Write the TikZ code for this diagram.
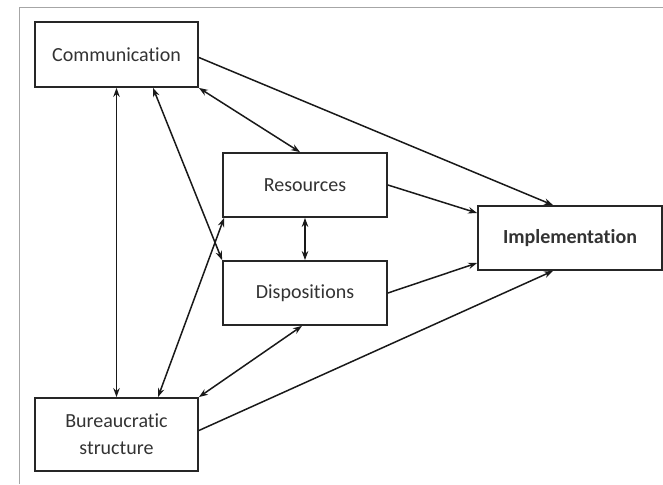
\documentclass[tikz,border=0pt]{standalone}
\usepackage{fontspec}
\setmainfont{Carlito}[Ligatures=NoCommon]
\usetikzlibrary{arrows.meta}
\begin{document}
\begin{tikzpicture}[x=1pt,y=-1pt,
  tip/.tip={Stealth[length=9pt,width=6.5pt]},
  box/.style={draw=black!85, line width=1.8pt, fill=white, text=black!80,
    inner sep=0pt, align=center, font=\fontsize{20}{27}\selectfont},
  link/.style={draw=black!90, line width=1.5pt, -tip},
  both/.style={link, tip-tip},
  frameline/.style={draw=black!35, line width=1pt}]
  \useasboundingbox (0,0) rectangle (663,484);
  % outer frame
  \draw[frameline] (19,484) -- (19,8) -- (663,8);

  % boxes
  \node[box, minimum width=163pt, minimum height=65pt] (comm) at (116.5,54.5) {Communication};
  \node[box, minimum width=163pt, minimum height=73pt] (bur) at (116.5,434.5) {Bureaucratic\\structure};
  \node[box, minimum width=164pt, minimum height=64pt] (res) at (305,185) {Resources};
  \node[box, minimum width=164pt, minimum height=64pt] (disp) at (305,293) {Dispositions};
  \node[box, minimum width=184pt, minimum height=64pt, font=\fontsize{20}{27}\selectfont\bfseries] (impl) at (570,238) {Implementation};

  % two-way links
  \draw[both] (comm.south) -- (bur.north);
  \draw[both] ([xshift=36.5pt]comm.south) -- (disp.north west);
  \draw[both] ([xshift=41.5pt]bur.north) -- ([xshift=2pt]res.south west);
  \draw[both] (bur.north east) -- ([xshift=-3pt]disp.south);
  \draw[both] (comm.south east) -- ([xshift=-5pt]res.north);
  \draw[both] (res.south) -- (disp.north);

  % links into implementation
  \draw[link] ([yshift=-3pt]comm.east) -- ([xshift=-17pt]impl.north);
  \draw[link] (res.east) -- ([yshift=25pt]impl.west);
  \draw[link] (disp.east) -- ([yshift=-25pt]impl.west);
  \draw[link] ([yshift=4pt]bur.east) -- ([xshift=-17pt]impl.south);
\end{tikzpicture}
\end{document}
